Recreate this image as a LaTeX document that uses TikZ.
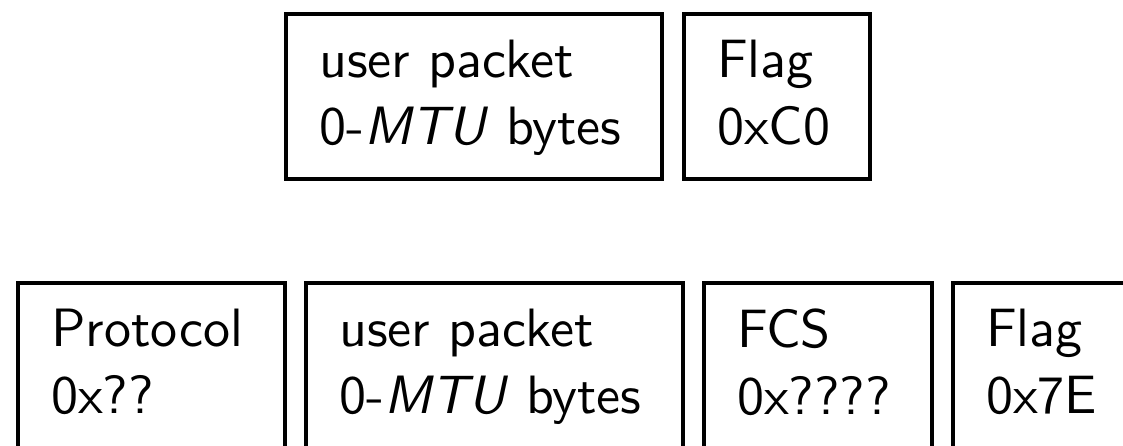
\documentclass[tikz,border=0pt]{standalone}
\newcommand\pxu{0.185185pt}
\begin{document}
\begin{tikzpicture}[x=0.185185pt,y=-0.185185pt,
  field/.style={draw, line width=4*\pxu, inner sep=0, anchor=north west},
  lbl/.style={anchor=north west, inner sep=0, align=left,
    font=\sffamily\fontsize{10}{12.407}\selectfont}]
\useasboundingbox (0,0) rectangle (1123,446);
\clip (0,0) rectangle (1123,446);
% top row
\node[field, minimum width=376*\pxu, minimum height=165*\pxu] (up1) at (284,12) {};
\node[field, minimum width=186*\pxu, minimum height=165*\pxu] (fl1) at (682,12) {};
% bottom row
\node[field, minimum width=267*\pxu, minimum height=167*\pxu] (pr) at (16,281) {};
\node[field, minimum width=377*\pxu, minimum height=167*\pxu] (up2) at (304,281) {};
\node[field, minimum width=228*\pxu, minimum height=167*\pxu] (fcs) at (702,281) {};
\node[field, minimum width=186*\pxu, minimum height=167*\pxu] (fl2) at (951,281) {};
% labels
\node[lbl] (tup1) at ([xshift=34*\pxu,yshift=-26.5*\pxu]up1.north west) {user packet\\0-\textsl{MTU} bytes};
\node[lbl] (tfl1) at ([xshift=34*\pxu,yshift=-26.5*\pxu]fl1.north west) {Flag\\0xC0};
\node[lbl] (tpr) at ([xshift=34*\pxu,yshift=-26.5*\pxu]pr.north west) {Protocol\\0x??};
\node[lbl] (tup2) at ([xshift=34*\pxu,yshift=-26.5*\pxu]up2.north west) {user packet\\0-\textsl{MTU} bytes};
\node[lbl] (tfcs) at ([xshift=34*\pxu,yshift=-26.5*\pxu]fcs.north west) {FCS\\0x????};
\node[lbl] (tfl2) at ([xshift=34*\pxu,yshift=-26.5*\pxu]fl2.north west) {Flag\\0x7E};
\end{tikzpicture}
\end{document}
